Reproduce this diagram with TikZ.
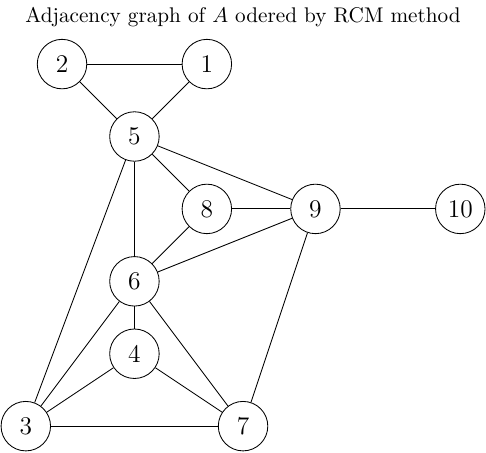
\documentclass[tikz,border=0pt]{standalone}
\begin{document}
\begin{tikzpicture}[x=0.6cm,y=0.6cm,
    vertex/.style={draw,circle,minimum size=0.82cm,inner sep=0pt,font=\large}]
  % Page size
  \useasboundingbox (-0.713,-0.718) rectangle (12.71,11.77);

  % Title
  \node (title) at (6,11.3) {Adjacency graph of $A$ odered by RCM method};

  % Vertices
  \node[vertex] (v1) at (5,10) {1};
  \node[vertex] (v2) at (1,10) {2};
  \node[vertex] (v3) at (0,0) {3};
  \node[vertex] (v4) at (3,2) {4};
  \node[vertex] (v5) at (3,8) {5};
  \node[vertex] (v6) at (3,4) {6};
  \node[vertex] (v7) at (6,0) {7};
  \node[vertex] (v8) at (5,6) {8};
  \node[vertex] (v9) at (8,6) {9};
  \node[vertex] (v10) at (12,6) {10};

  % Edges
  \foreach \a/\b in {2/1, 2/5, 1/5, 5/8, 5/9, 5/6, 5/3, 8/9, 8/6, 9/6,
                     9/10, 9/7, 6/4, 6/3, 6/7, 4/3, 4/7, 3/7} {
      \draw (v\a) -- (v\b);
    }
\end{tikzpicture}
\end{document}
